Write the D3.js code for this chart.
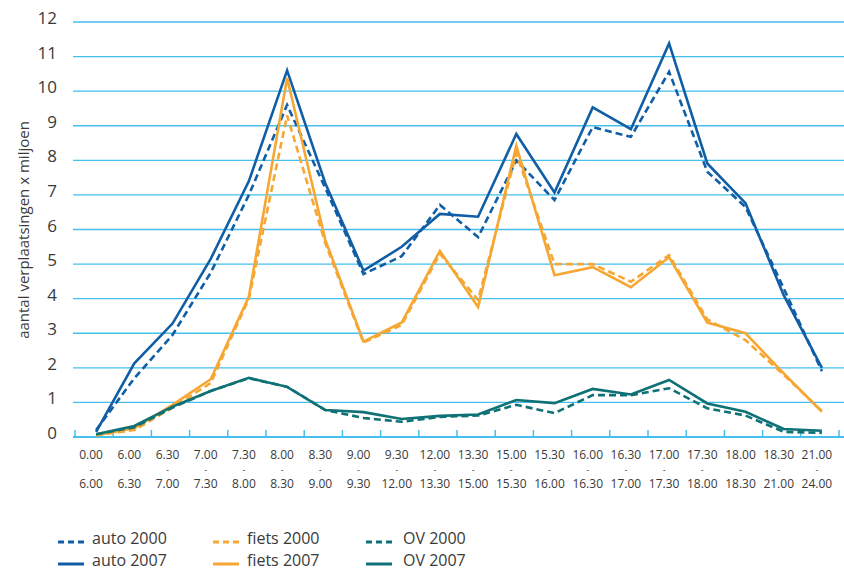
<!DOCTYPE html>
<html>
<head>
<meta charset="utf-8">
<script src="https://d3js.org/d3.v7.min.js"></script>
<style>
  body { margin: 0; background: #fff; }
  svg { font-family: "Open Sans", sans-serif; }
</style>
</head>
<body>
<div id="chart"></div>
<script>
// Gegevens
const periodStart = ["0.00", "6.00", "6.30", "7.00", "7.30", "8.00", "8.30", "9.00", "9.30", "12.00",
  "13.30", "15.00", "15.30", "16.00", "16.30", "17.00", "17.30", "18.00", "18.30", "21.00"];
const periodEnd = ["6.00", "6.30", "7.00", "7.30", "8.00", "8.30", "9.00", "9.30", "12.00", "13.30",
  "15.00", "15.30", "16.00", "16.30", "17.00", "17.30", "18.00", "18.30", "21.00", "24.00"];

const auto2000 = [0.2, 1.7, 2.95, 4.75, 7.0, 9.6, 7.2, 4.71, 5.23, 6.71, 5.78, 8.0, 6.85, 8.96, 8.68, 10.56, 7.67, 6.65, 4.3, 1.9];
const auto2007 = [0.15, 2.13, 3.28, 5.15, 7.4, 10.6, 7.34, 4.81, 5.5, 6.45, 6.37, 8.76, 7.07, 9.53, 8.9, 11.38, 7.91, 6.76, 4.1, 2.0];
const fiets2000 = [0.05, 0.2, 0.85, 1.56, 4.0, 9.3, 5.6, 2.73, 3.24, 5.3, 3.96, 8.2, 5.0, 5.0, 4.49, 5.26, 3.4, 2.8, 1.8, 0.75];
const fiets2007 = [0.05, 0.25, 0.93, 1.67, 4.06, 10.38, 5.7, 2.76, 3.31, 5.38, 3.76, 8.42, 4.68, 4.91, 4.33, 5.2, 3.31, 3.0, 1.84, 0.73];
const ov2000 = [0.08, 0.28, 0.85, 1.33, 1.7, 1.45, 0.78, 0.55, 0.44, 0.58, 0.62, 0.93, 0.69, 1.21, 1.21, 1.41, 0.83, 0.62, 0.15, 0.12];
const ov2007 = [0.08, 0.32, 0.88, 1.33, 1.71, 1.45, 0.78, 0.72, 0.52, 0.61, 0.65, 1.07, 0.98, 1.39, 1.23, 1.65, 0.97, 0.73, 0.23, 0.18];

const yTicks = [0, 1, 2, 3, 4, 5, 6, 7, 8, 9, 10, 11, 12];
const yTitle = "aantal verplaatsingen x miljoen";

const series = [
  { name: "auto 2000", values: auto2000, color: "#105ea5", dashed: true },
  { name: "auto 2007", values: auto2007, color: "#105ea5", dashed: false },
  { name: "fiets 2000", values: fiets2000, color: "#f6a733", dashed: true },
  { name: "fiets 2007", values: fiets2007, color: "#f6a733", dashed: false },
  { name: "OV 2000", values: ov2000, color: "#0e7176", dashed: true },
  { name: "OV 2007", values: ov2007, color: "#0e7176", dashed: false }
];

// Afmetingen
const width = 844;
const height = 570;
const gridColor = "#45bfec";
const textColor = "#3a3a3a";

const svg = d3.select("#chart").append("svg")
  .attr("width", width)
  .attr("height", height);

// Schalen
const x = d3.scaleBand().domain(periodStart).range([75, 839]);
const y = d3.scaleLinear().domain([0, 12]).range([437, 22]);
const px = (i) => x(periodStart[i]) + x.bandwidth() / 2 + 2;

// Rasterlijnen
svg.append("g")
  .selectAll("line")
  .data(yTicks.filter(d => d > 0))
  .join("line")
  .attr("x1", 73)
  .attr("x2", width)
  .attr("y1", d => y(d))
  .attr("y2", d => y(d))
  .attr("stroke", gridColor)
  .attr("stroke-width", 1.4);

// Y-as labels
svg.append("g")
  .selectAll("text")
  .data(yTicks)
  .join("text")
  .attr("x", 57)
  .attr("y", d => y(d) + 2)
  .attr("text-anchor", "end")
  .attr("fill", textColor)
  .attr("font-size", 17)
  .text(d => d);

svg.append("text")
  .attr("transform", "translate(29,230) rotate(-90)")
  .attr("text-anchor", "middle")
  .attr("fill", textColor)
  .attr("font-size", 15)
  .text(yTitle);

// X-as
const xAxis = svg.append("g")
  .attr("transform", "translate(0,437)")
  .call(d3.axisBottom(x).tickFormat("").tickSizeInner(0).tickSizeOuter(0));
xAxis.select(".domain").attr("stroke", gridColor).attr("stroke-width", 2).attr("d", "M73,0H844");

const tickPos = x.domain().map(d => x(d)).concat([x.range()[1]]);
svg.append("g")
  .selectAll("line")
  .data(tickPos)
  .join("line")
  .attr("x1", d => d)
  .attr("x2", d => d)
  .attr("y1", 430)
  .attr("y2", 438)
  .attr("stroke", gridColor)
  .attr("stroke-width", 1.5);

// Tijdvak labels: begin, streepje (kleiner), eind
const labels = svg.append("g")
  .attr("fill", textColor)
  .attr("text-anchor", "middle");
periodStart.forEach((d, i) => {
  const cx = x(d) + x.bandwidth() / 2 - 3;
  labels.append("text").attr("x", cx).attr("y", 459).attr("font-size", 12).text(d);
  labels.append("text").attr("x", cx).attr("y", 472.6).attr("font-size", 9).text("-");
  labels.append("text").attr("x", cx).attr("y", 488).attr("font-size", 12).text(periodEnd[i]);
});

// Lijnen
const line = d3.line()
  .x((d, i) => px(i))
  .y(d => y(d));

svg.append("g")
  .selectAll("path")
  .data(series)
  .join("path")
  .attr("d", d => line(d.values))
  .attr("fill", "none")
  .attr("stroke", d => d.color)
  .attr("stroke-width", 2.6)
  .attr("stroke-linejoin", "miter")
  .attr("stroke-dasharray", d => d.dashed ? "7,4" : null);

// Legenda
const legendCols = [58, 213, 366];
const legend = svg.append("g");
series.forEach((s, i) => {
  const lx = legendCols[Math.floor(i / 2)];
  const ly = i % 2 === 0 ? 542 : 564;
  legend.append("line")
    .attr("x1", lx).attr("x2", lx + 26)
    .attr("y1", ly).attr("y2", ly)
    .attr("stroke", s.color)
    .attr("stroke-width", 3)
    .attr("stroke-dasharray", s.dashed ? "6,4" : null);
  legend.append("text")
    .attr("x", lx + 34 + (i >= 4 ? 3 : 0))
    .attr("y", ly + 2)
    .attr("fill", textColor)
    .attr("font-size", 16)
    .text(s.name);
});
</script>
</body>
</html>
